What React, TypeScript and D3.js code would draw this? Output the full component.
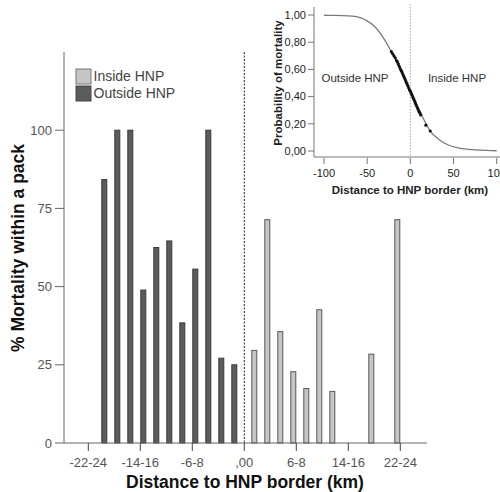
import React from "react";
import * as d3 from "d3";

// 2-km distance classes relative to the HNP border
const categories = [
  "-22-24", "-20-22", "-18-20", "-16-18", "-14-16", "-12-14", "-10-12", "-8-10",
  "-6-8", "-4-6", "-2-4", "-0-2", ",00", "0-2", "2-4", "4-6", "6-8", "8-10",
  "10-12", "12-14", "14-16", "16-18", "18-20", "20-22", "22-24",
];
const tickCategories = ["-22-24", "-14-16", "-6-8", ",00", "6-8", "14-16", "22-24"];
const groups = ["Inside HNP", "Outside HNP"];

// % mortality within a pack, per distance class
const outsideCats = ["-20-22", "-18-20", "-16-18", "-14-16", "-12-14", "-10-12", "-8-10", "-6-8", "-4-6", "-2-4", "-0-2"];
const outsideValues = [84.2, 100, 100, 48.9, 62.5, 64.6, 38.4, 55.6, 100, 27.1, 25.0];
const insideCats = ["0-2", "2-4", "4-6", "6-8", "8-10", "10-12", "12-14", "18-20", "22-24"];
const insideValues = [29.6, 71.4, 35.6, 22.8, 17.4, 42.6, 16.5, 28.4, 71.4];

const yTicks = [0, 25, 50, 75, 100];

// Logistic fit: probability of mortality vs distance to border
const curveKm = [-100, -90, -80, -72, -60, -52, -41, -31, -22, -12, 0, 13, 23, 33, 44, 54, 63, 75, 88, 100];
const curveP = [0.998, 0.997, 0.996, 0.994, 0.985, 0.963, 0.914, 0.83, 0.73, 0.61, 0.44, 0.265, 0.147, 0.085, 0.044, 0.025, 0.015, 0.008, 0.004, 0.002];
// Packs (points on the fitted curve)
const packKm = [-22, -20.5, -19, -17.5, -16, -15, -14, -13, -12, -11, -10, -9, -8, -7, -6, -5, -4, -3, -2, -1, 0, 1, 2, 3, 4, 5, 6, 7, 8, 9, 10, 11, 12, 18, 23];
const packP = [0.73, 0.715, 0.70, 0.685, 0.665, 0.655, 0.64, 0.625, 0.61, 0.595, 0.585, 0.57, 0.555, 0.54, 0.525, 0.51, 0.495, 0.48, 0.465, 0.45, 0.44, 0.425, 0.41, 0.395, 0.38, 0.365, 0.35, 0.335, 0.32, 0.305, 0.29, 0.28, 0.265, 0.19, 0.147];
const insetXTicks = [-100, -50, 0, 50, 100];
const insetYTicks = [0, 0.2, 0.4, 0.6, 0.8, 1.0];

const FONT = "'Liberation Sans', Arial, sans-serif";
const DARK = "#5c5c5c";
const LIGHT = "#c6c6c6";

export default function App() {
  // main chart scales
  const x = d3.scalePoint<string>().domain(categories).range([88.3, 400.3]);
  const xSub = d3.scaleBand<string>().domain(groups).range([-6, 6]);
  const y = d3.scaleLinear().domain([0, 125]).range([443, 52]);
  const axisLeft = 64;
  const axisRight = 427;

  // inset scales
  const ix = d3.scaleLinear().domain([-100, 100]).range([324, 496.7]);
  const iy = d3.scaleLinear().domain([0, 1]).range([151, 15]);
  const curvePath = d3
    .line<number>()
    .x((_, i) => ix(curveKm[i]))
    .y((d) => iy(d))
    .curve(d3.curveMonotoneX)(curveP);

  const bar = (cat: string, v: number, g: string, fill: string, stroke: string) => {
    const x0 = (x(cat) as number) + (xSub(g) as number);
    return (
      <rect
        key={g + cat}
        x={x0 + 0.5}
        y={y(v)}
        width={xSub.bandwidth() - 1}
        height={y(0) - y(v)}
        fill={fill}
        stroke={stroke}
        strokeWidth={1}
      />
    );
  };

  return (
    <svg
      width={500}
      height={492}
      style={{ position: "absolute", left: 0, top: 0, background: "#fff" }}
      fontFamily={FONT}
    >
      <rect width={500} height={492} fill="#fff" />

      {/* border divider */}
      <line x1={x(",00")} x2={x(",00")} y1={52} y2={443} stroke="#222" strokeDasharray="2,1.5" strokeWidth={1} />

      {/* bars */}
      {outsideCats.map((c, i) => bar(c, outsideValues[i], "Outside HNP", DARK, "#3a3a3a"))}
      {insideCats.map((c, i) => bar(c, insideValues[i], "Inside HNP", LIGHT, "#585858"))}

      {/* y axis */}
      <line x1={axisLeft} x2={axisLeft} y1={52} y2={443} stroke="#666" />
      {yTicks.map((t) => (
        <g key={t}>
          <line x1={axisLeft - 9} x2={axisLeft} y1={y(t)} y2={y(t)} stroke="#666" />
          <text x={axisLeft - 12} y={y(t)} dy="0.35em" textAnchor="end" fontSize={13} fill="#555">
            {t}
          </text>
        </g>
      ))}

      {/* x axis */}
      <line x1={axisLeft} x2={axisRight} y1={443} y2={443} stroke="#666" />
      {tickCategories.map((c) => (
        <g key={c}>
          <line x1={x(c)} x2={x(c)} y1={443} y2={451} stroke="#444" />
          <text x={x(c)} y={462} dy="0.35em" textAnchor="middle" fontSize={13} fill="#555">
            {c}
          </text>
        </g>
      ))}

      {/* axis titles */}
      <text x={245} y={482} dy="0.35em" textAnchor="middle" fontSize={17.5} fontWeight="bold" fill="#111">
        Distance to HNP border (km)
      </text>
      <text
        transform="translate(18,248) rotate(-90)"
        dy="0.35em"
        textAnchor="middle"
        fontSize={17.5}
        fontWeight="bold"
        fill="#111"
      >
        % Mortality within a pack
      </text>

      {/* legend */}
      {groups.map((g, i) => (
        <g key={g} transform={`translate(76,${69 + i * 17})`}>
          <rect x={0} y={0} width={15} height={15} fill={i === 0 ? LIGHT : DARK} stroke={i === 0 ? "#777" : "#444"} />
          <text x={17.5} y={7.5} dy="0.35em" fontSize={14} fill="#444">
            {g}
          </text>
        </g>
      ))}

      {/* inset: logistic fit */}
      <g>
        <line x1={ix(0)} x2={ix(0)} y1={4} y2={157} stroke="#aaa" strokeDasharray="1.5,1.5" />
        <path d={curvePath ?? ""} fill="none" stroke="#7a7a7a" strokeWidth={1.3} />
        {packKm.map((k, i) => (
          <circle key={i} cx={ix(k)} cy={iy(packP[i])} r={1.6} fill="#111" />
        ))}
        <line x1={314} x2={314} y1={7} y2={157} stroke="#777" />
        <line x1={314} x2={500} y1={157} y2={157} stroke="#777" />
        {insetYTicks.map((t) => (
          <g key={t}>
            <line x1={308} x2={314} y1={iy(t)} y2={iy(t)} stroke="#777" />
            <text x={306} y={iy(t)} dy="0.35em" textAnchor="end" fontSize={11} fill="#222">
              {t.toFixed(2).replace(".", ",")}
            </text>
          </g>
        ))}
        {insetXTicks.map((t) => (
          <g key={t}>
            <line x1={ix(t)} x2={ix(t)} y1={158} y2={164} stroke="#777" />
            <text x={ix(t)} y={173} dy="0.35em" textAnchor="middle" fontSize={11} fill="#222">
              {t}
            </text>
          </g>
        ))}
        <text x={355} y={78} dy="0.35em" textAnchor="middle" fontSize={11.5} fill="#333">
          Outside HNP
        </text>
        <text x={457} y={78} dy="0.35em" textAnchor="middle" fontSize={11.5} fill="#333">
          Inside HNP
        </text>
        <text x={410} y={190} dy="0.35em" textAnchor="middle" fontSize={11.5} fontWeight="bold" fill="#222">
          Distance to HNP border (km)
        </text>
        <text
          transform="translate(278,83) rotate(-90)"
          dy="0.35em"
          textAnchor="middle"
          fontSize={11.5}
          fontWeight="bold"
          fill="#222"
        >
          Probability of mortality
        </text>
      </g>
    </svg>
  );
}
